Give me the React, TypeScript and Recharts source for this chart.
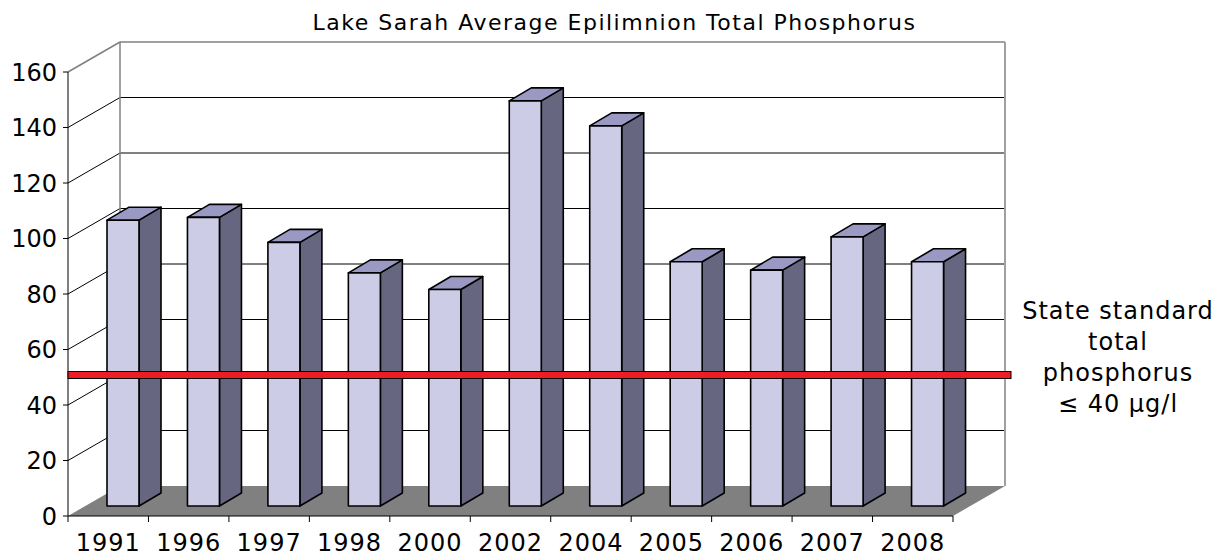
import { BarChart, Bar, XAxis, YAxis, ReferenceArea, ReferenceLine } from "recharts";

const YEARS = ["1991", "1996", "1997", "1998", "2000", "2002", "2004", "2005", "2006", "2007", "2008"];
const TP_VALUES = [103, 104, 95, 84, 78, 146, 137, 88, 85, 97, 88];
const Y_TICKS = [0, 20, 40, 60, 80, 100, 120, 140, 160];
const STANDARD_LEVEL = 40;
const STANDARD_TEXT = ["State standard", "total", "phosphorus", "≤ 40 μg/l"];

const FONT = "'DejaVu Sans', Verdana, sans-serif";

// 3d offsets (px)
const WALL_DX = 52;
const WALL_DY = 30;
const BAR_DX = 15;
const BAR_DY = 10;
const SIDE_DX = 22;
const SIDE_DY = 13;

const data = YEARS.map((year, i) => ({ year, tp: TP_VALUES[i] }));

function pts(list: number[][]) {
  return list.map((p) => p.join(",")).join(" ");
}

// walls, floor, gridlines and category ticks
function Walls(props: any) {
  const { x, y, width, height } = props;
  const bottom = y + height;
  const max = Y_TICKS[Y_TICKS.length - 1];
  const step = width / YEARS.length;
  return (
    <g>
      <polygon
        points={pts([[x, y], [x + WALL_DX, y - WALL_DY], [x + WALL_DX, bottom - WALL_DY], [x, bottom]])}
        fill="#fff"
      />
      <rect x={x + WALL_DX} y={y - WALL_DY} width={width} height={height} fill="#fff" />
      {Y_TICKS.filter((v) => v > 0 && v < max).map((v) => {
        const yy = bottom - (v / max) * height;
        return (
          <g key={v}>
            <line x1={x} y1={yy} x2={x + WALL_DX} y2={yy - WALL_DY} stroke="#000" strokeWidth={1} />
            <line x1={x + WALL_DX} y1={yy - WALL_DY} x2={x + WALL_DX + width} y2={yy - WALL_DY} stroke="#000" strokeWidth={1} />
          </g>
        );
      })}
      <polygon
        points={pts([[x, bottom], [x + width, bottom], [x + width + WALL_DX, bottom - WALL_DY], [x + WALL_DX, bottom - WALL_DY]])}
        fill="#808080"
      />
      <line x1={x} y1={y} x2={x + WALL_DX} y2={y - WALL_DY} stroke="#808080" strokeWidth={1.5} />
      <line x1={x + WALL_DX} y1={y - WALL_DY} x2={x + WALL_DX + width} y2={y - WALL_DY} stroke="#808080" strokeWidth={1.5} />
      <line x1={x + WALL_DX} y1={y - WALL_DY} x2={x + WALL_DX} y2={bottom - WALL_DY} stroke="#808080" strokeWidth={1.5} />
      <line x1={x + WALL_DX + width} y1={y - WALL_DY} x2={x + WALL_DX + width} y2={bottom - WALL_DY} stroke="#a0a0a0" strokeWidth={2} />
      {YEARS.map((_, i) => (
        <line key={i} x1={x + (i + 1) * step} y1={bottom} x2={x + (i + 1) * step} y2={bottom + 6} stroke="#000" strokeWidth={1} />
      ))}
      <line x1={x} y1={bottom} x2={x} y2={bottom + 6} stroke="#000" strokeWidth={1} />
    </g>
  );
}

function Bar3D(props: any) {
  const { x, y, width, height } = props;
  if (height == null || height <= 0) return null;
  const X = x + BAR_DX;
  const T = y - BAR_DY;
  const B = y + height - BAR_DY;
  return (
    <g stroke="#000" strokeWidth={1.6} strokeLinejoin="round">
      <polygon
        points={pts([[X + width, T], [X + width + SIDE_DX, T - SIDE_DY], [X + width + SIDE_DX, B - SIDE_DY], [X + width, B]])}
        fill="#666680"
      />
      <polygon
        points={pts([[X, T], [X + width, T], [X + width + SIDE_DX, T - SIDE_DY], [X + SIDE_DX, T - SIDE_DY]])}
        fill="#9999c4"
      />
      <rect x={X} y={T} width={width} height={B - T} fill="#cccce6" />
    </g>
  );
}

function StandardLine(props: any) {
  const { x1, y1, x2 } = props;
  const yy = y1 - WALL_DY;
  return (
    <rect x={x1} y={yy - 3.5} width={x2 - x1 + WALL_DX + 6} height={7} fill="#ee1c25" stroke="#000" strokeWidth={1} />
  );
}

export default function App() {
  return (
    <div style={{ position: "absolute", left: 0, top: 0, width: 1229, height: 560, background: "#fff", fontFamily: FONT }}>
      <div
        style={{
          position: "absolute",
          left: 0,
          width: 1229,
          top: 10,
          textAlign: "center",
          fontSize: 22,
          letterSpacing: 1.5,
          color: "#000",
        }}
      >
        Lake Sarah Average Epilimnion Total Phosphorus
      </div>
      <BarChart
        width={1229}
        height={560}
        data={data}
        margin={{ top: 72, right: 276, left: 8, bottom: 4 }}
        barSize={32}
      >
        <ReferenceArea y1={0} y2={160} shape={Walls} zIndex={-10} isFront={false} />
        <XAxis
          dataKey="year"
          height={40}
          tickLine={false}
          axisLine={{ stroke: "#000", strokeWidth: 1 }}
          tickMargin={12}
          interval={0}
          tick={{ fontSize: 24, fill: "#000", fontFamily: FONT, letterSpacing: 1 }}
        />
        <YAxis
          width={60}
          domain={[0, 160]}
          ticks={Y_TICKS}
          interval={0}
          tickSize={5}
          tickMargin={6}
          axisLine={{ stroke: "#000", strokeWidth: 1 }}
          tickLine={{ stroke: "#000" }}
          tick={{ fontSize: 24, fill: "#000", fontFamily: FONT }}
        />
        <Bar dataKey="tp" shape={Bar3D} isAnimationActive={false} />
        <ReferenceLine y={STANDARD_LEVEL} shape={StandardLine} zIndex={1500} />
      </BarChart>
      <div
        style={{
          position: "absolute",
          left: 1010,
          width: 216,
          top: 296,
          textAlign: "center",
          fontSize: 24,
          letterSpacing: 1,
          lineHeight: "31px",
          color: "#000",
        }}
      >
        {STANDARD_TEXT.map((t) => (
          <div key={t}>{t}</div>
        ))}
      </div>
    </div>
  );
}
